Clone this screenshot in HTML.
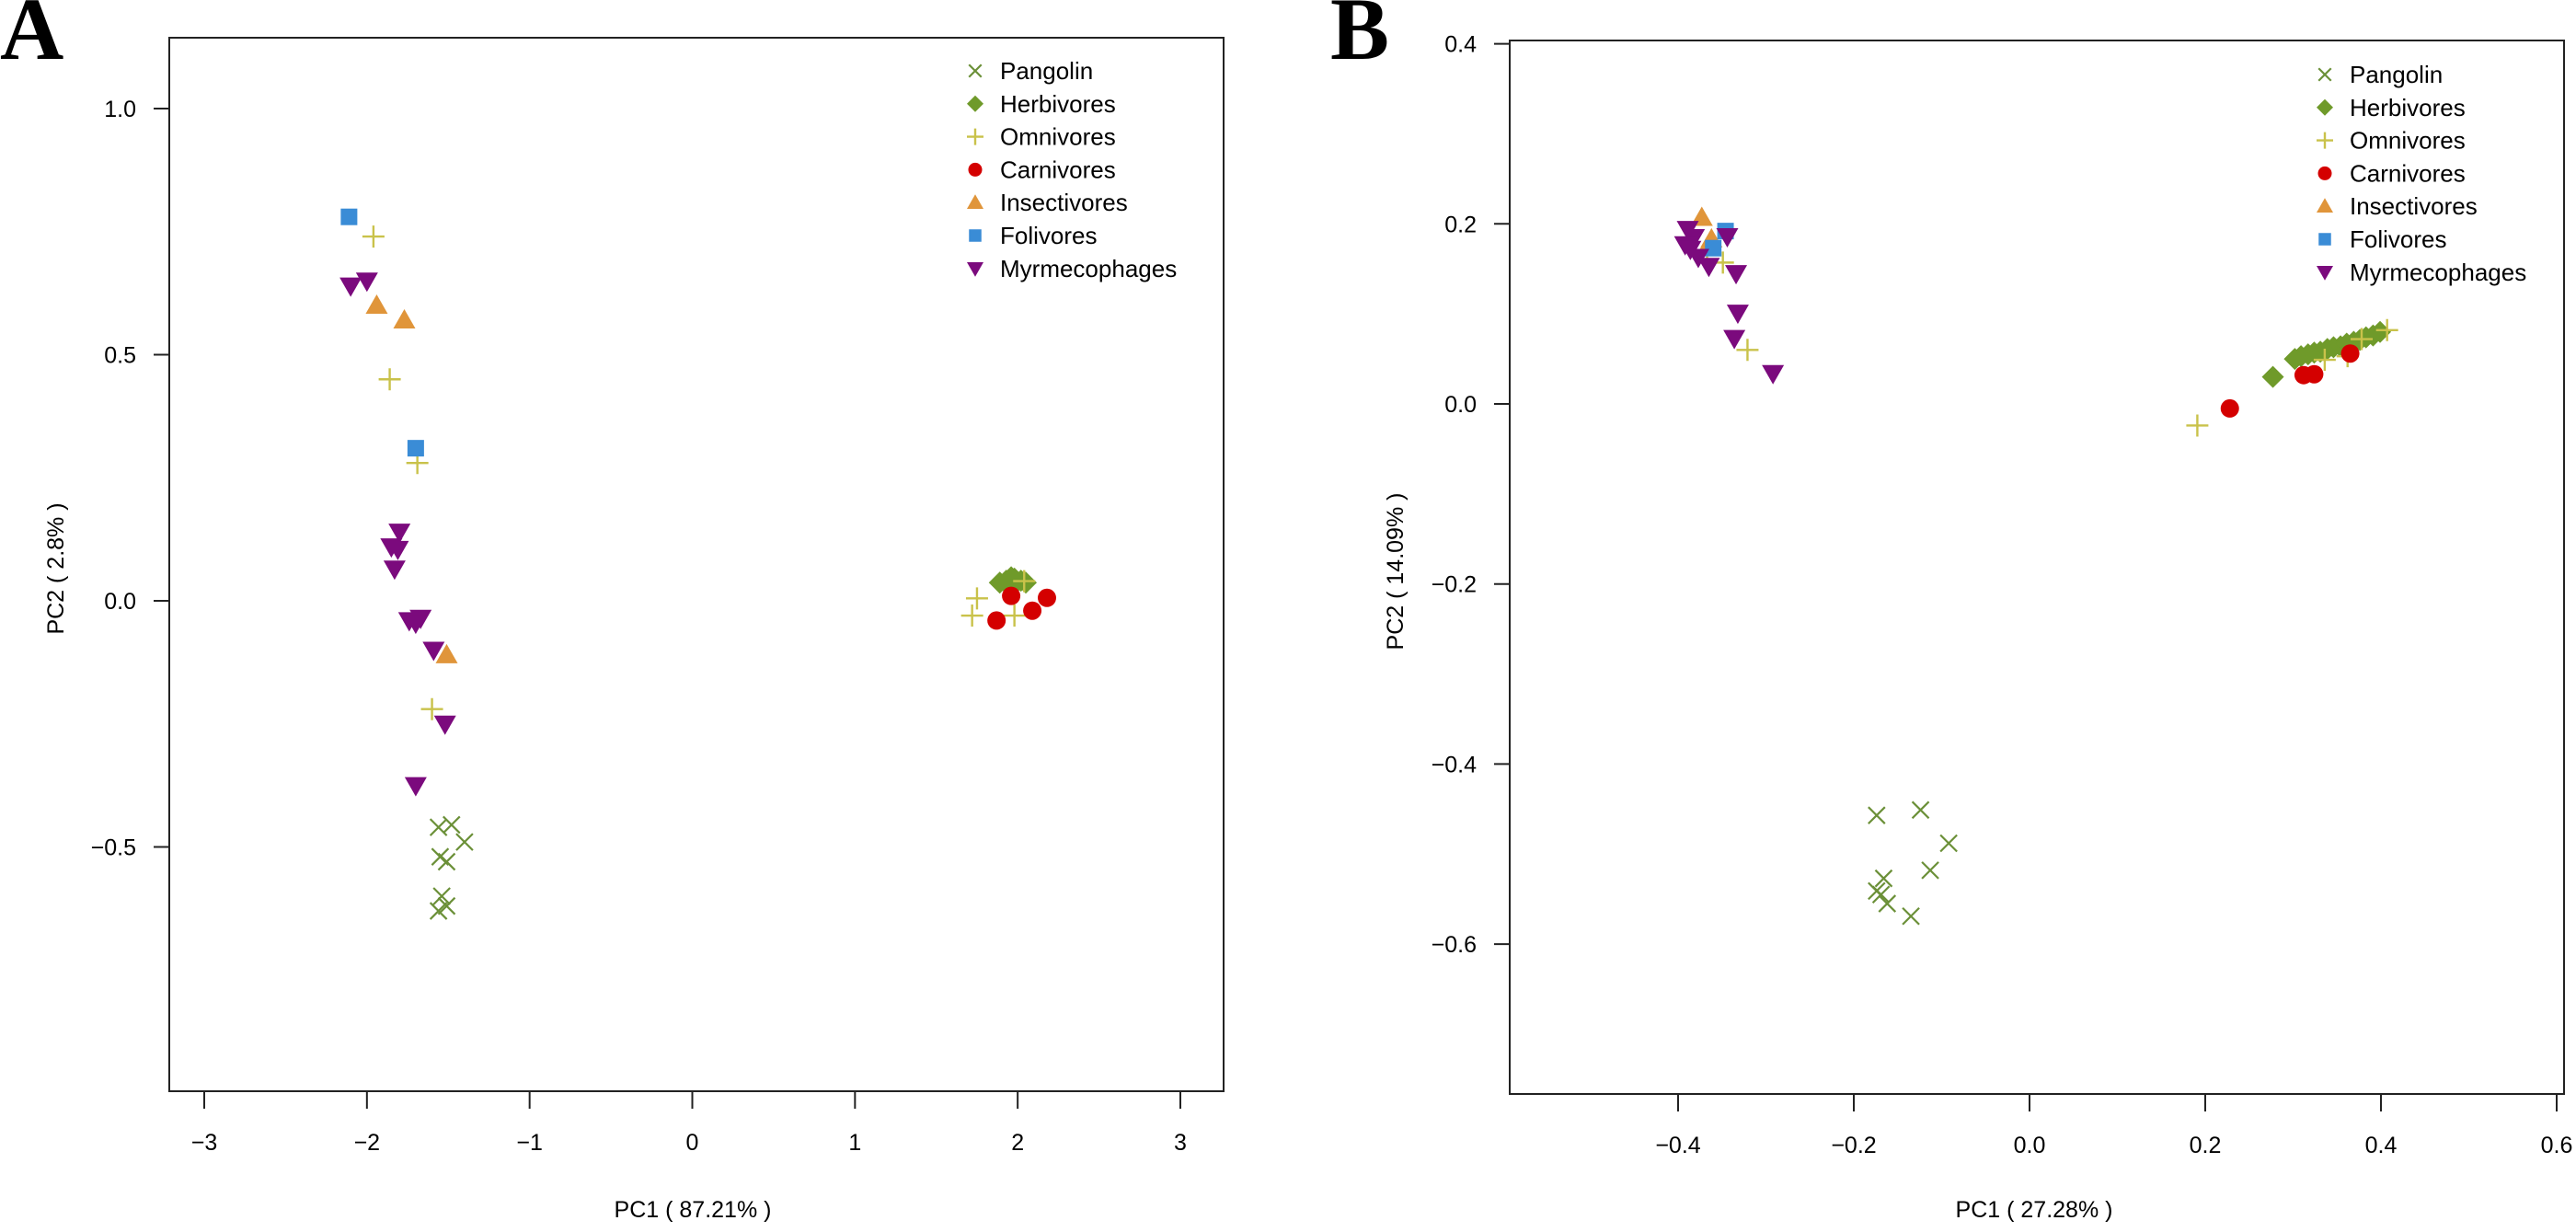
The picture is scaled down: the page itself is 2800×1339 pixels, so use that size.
<!DOCTYPE html>
<html><head><meta charset="utf-8"><style>
html,body{margin:0;padding:0;background:#fff;}
svg text{font-family:"Liberation Sans",Arial,sans-serif;}
</style></head><body>
<svg id="chart" width="2800" height="1334" viewBox="0 0 2800 1334" xmlns="http://www.w3.org/2000/svg"></svg>
<script>
// Panel A data
const aPangolin=[[-1.56,-0.46],[-1.48,-0.455],[-1.40,-0.49],[-1.55,-0.52],[-1.51,-0.53],[-1.54,-0.60],[-1.51,-0.62],[-1.56,-0.63]];
const aHerbivores=[[1.89,0.037],[1.93,0.041],[1.96,0.048],[1.99,0.037],[2.02,0.041],[2.05,0.037],[1.95,0.029],[1.98,0.045]];
const aOmnivores=[[-1.96,0.74],[-1.86,0.45],[-1.69,0.28],[-1.60,-0.22],[1.72,-0.03],[1.75,0.005],[1.98,-0.03],[2.04,0.04]];
const aCarnivores=[[1.87,-0.04],[1.96,0.01],[2.09,-0.02],[2.18,0.006]];
const aInsectivores=[[-1.94,0.60],[-1.77,0.57],[-1.51,-0.11]];
const aFolivores=[[-2.11,0.78],[-1.70,0.31]];
const aMyrm=[[-2.10,0.64],[-2.00,0.65],[-1.80,0.14],[-1.85,0.11],[-1.81,0.105],[-1.83,0.065],[-1.74,-0.04],[-1.67,-0.035],[-1.70,-0.045],[-1.59,-0.10],[-1.52,-0.25],[-1.70,-0.375]];
const aXTicks=[-3,-2,-1,0,1,2,3];
const aYTicks=[-0.5,0.0,0.5,1.0];
// Panel B data
const bPangolin=[[-0.174,-0.457],[-0.124,-0.451],[-0.092,-0.488],[-0.113,-0.518],[-0.166,-0.527],[-0.174,-0.541],[-0.169,-0.545],[-0.162,-0.555],[-0.135,-0.569]];
const bHerbivores=[[0.277,0.030],[0.302,0.050],[0.309,0.053],[0.317,0.055],[0.324,0.057],[0.331,0.058],[0.339,0.061],[0.346,0.063],[0.354,0.064],[0.361,0.067],[0.369,0.069],[0.376,0.071],[0.383,0.074],[0.391,0.076],[0.399,0.080]];
const bOmnivores=[[-0.367,0.170],[-0.349,0.157],[-0.321,0.060],[0.191,-0.024],[0.407,0.082],[0.378,0.072],[0.336,0.049],[0.362,0.053]];
const bCarnivores=[[0.228,-0.005],[0.312,0.032],[0.324,0.033],[0.365,0.056]];
const bInsectivores=[[-0.373,0.207],[-0.362,0.183],[-0.365,0.177]];
const bFolivores=[[-0.346,0.192],[-0.360,0.173]];
const bMyrm=[[-0.389,0.194],[-0.382,0.185],[-0.392,0.177],[-0.386,0.172],[-0.377,0.163],[-0.365,0.153],[-0.344,0.186],[-0.334,0.145],[-0.332,0.101],[-0.336,0.073],[-0.292,0.034]];
const bXTicks=[-0.4,-0.2,0.0,0.2,0.4,0.6];
const bYTicks=[-0.6,-0.4,-0.2,0.0,0.2,0.4];
const legendLabels=["Pangolin","Herbivores","Omnivores","Carnivores","Insectivores","Folivores","Myrmecophages"];

const NS="http://www.w3.org/2000/svg";
const svg=document.getElementById('chart');
const COL={Pangolin:"#6b9038",Herbivores:"#6f9a2a",Omnivores:"#c9c24a",Carnivores:"#d40000",Insectivores:"#e0953a",Folivores:"#3a8cd6",Myrmecophages:"#7b0a7d"};
function mk(tag,attrs,parent){const e=document.createElementNS(NS,tag);for(const k in attrs)e.setAttribute(k,attrs[k]);(parent||svg).appendChild(e);return e;}
function marker(g,type,cx,cy,s){
  s=s||1;let e;const c=COL[type];
  if(type==="Pangolin"){e=mk('path',{d:`M${cx-9*s},${cy-9*s}L${cx+9*s},${cy+9*s}M${cx-9*s},${cy+9*s}L${cx+9*s},${cy-9*s}`,stroke:c,'stroke-width':2.2,fill:'none'},g);}
  else if(type==="Omnivores"){e=mk('path',{d:`M${cx-12*s},${cy}L${cx+12*s},${cy}M${cx},${cy-12*s}L${cx},${cy+12*s}`,stroke:c,'stroke-width':2.4,fill:'none'},g);}
  else if(type==="Herbivores"){e=mk('polygon',{points:`${cx},${cy-12*s} ${cx+12*s},${cy} ${cx},${cy+12*s} ${cx-12*s},${cy}`,fill:c},g);}
  else if(type==="Carnivores"){e=mk('circle',{cx:cx,cy:cy,r:10*s,fill:c},g);}
  else if(type==="Insectivores"){e=mk('polygon',{points:`${cx},${cy-12*s} ${cx+12*s},${cy+9*s} ${cx-12*s},${cy+9*s}`,fill:c},g);}
  else if(type==="Folivores"){e=mk('rect',{x:cx-9*s,y:cy-9*s,width:18*s,height:18*s,fill:c},g);}
  else {e=mk('polygon',{points:`${cx-12*s},${cy-9*s} ${cx+12*s},${cy-9*s} ${cx},${cy+12*s}`,fill:c},g);}
  return e;
}
function panel(cfg){
  const g=mk('g',{});
  
  
  const X=v=>cfg.px0+(v-cfg.xa)*(cfg.px1-cfg.px0)/(cfg.xb-cfg.xa);
  const Y=v=>cfg.py0+(v-cfg.ya)*(cfg.py1-cfg.py0)/(cfg.yb-cfg.ya);
  const box=mk('rect',{x:cfg.L,y:cfg.T,width:cfg.R-cfg.L,height:cfg.B-cfg.T,fill:'none',stroke:'#222','stroke-width':2},g);
  
  const xa=mk('g',{},g);
  cfg.xt.forEach(t=>{mk('line',{x1:X(t),x2:X(t),y1:cfg.B,y2:cfg.B+19,stroke:'#222','stroke-width':2},xa);
    const tx=mk('text',{x:X(t),y:cfg.B+64,'text-anchor':'middle','font-size':25},xa);tx.textContent=(t<0?'\u2212':'')+Math.abs(t).toFixed(cfg.xd);
    });
  const ya=mk('g',{},g);
  cfg.yt.forEach(t=>{mk('line',{x1:cfg.L,x2:cfg.L-17,y1:Y(t),y2:Y(t),stroke:'#222','stroke-width':2},ya);
    const tx=mk('text',{x:cfg.L-36,y:Y(t)+9,'text-anchor':'end','font-size':25},ya);tx.textContent=(t<0?'\u2212':'')+Math.abs(t).toFixed(1);
    });
  const xt=mk('text',{x:cfg.xtx,y:1323,'text-anchor':'middle','font-size':25},g);xt.textContent=cfg.xTitle;
  
  const yt=mk('text',{x:0,y:0,'text-anchor':'middle','font-size':25,transform:`translate(${cfg.ytx},${cfg.yty}) rotate(-90)`},g);yt.textContent=cfg.yTitle;
  
  const lab=mk('text',{x:cfg.labX,y:64,style:'font-family:"Liberation Serif","Times New Roman",serif;font-size:96px;font-weight:bold'},g);lab.textContent=cfg.label;
  
  const series=[["Pangolin",cfg.d[0]],["Herbivores",cfg.d[1]],["Omnivores",cfg.d[2]],["Carnivores",cfg.d[3]],["Insectivores",cfg.d[4]],["Folivores",cfg.d[5]],["Myrmecophages",cfg.d[6]]];
  series.forEach(([name,pts])=>{
    const sg=mk('g',{},g);
    
    
    pts.forEach(p=>{const m=marker(sg,name,X(p[0]),Y(p[1]));
      
      });
  });
  const lg=mk('g',{},g);
  legendLabels.forEach((name,i)=>{
    const eg=mk('g',{},lg);
    
    
    const y=cfg.legY+i*35.8;marker(eg,name,cfg.legMX,y,0.75);
    const t=mk('text',{x:cfg.legTX,y:y+9,'font-size':26},eg);t.textContent=name;
  });
}
panel({name:'panel-a',L:184,R:1330,T:41,B:1186,xa:-3,xb:3,px0:222,px1:1283,ya:0,yb:1,py0:653,py1:118,
  xt:aXTicks,yt:aYTicks,xd:0,xTitle:'PC1 ( 87.21% )',yTitle:'PC2 ( 2.8% )',xtx:753,ytx:69,yty:618,label:'A',labX:0,
  legMX:1060,legTX:1087,legY:77,d:[aPangolin,aHerbivores,aOmnivores,aCarnivores,aInsectivores,aFolivores,aMyrm]});
panel({name:'panel-b',L:1641,R:2787,T:44,B:1189,xa:-0.4,xb:0.4,px0:1824,px1:2588,ya:0,yb:0.4,py0:439,py1:47.6,
  xt:bXTicks,yt:bYTicks,xd:1,xTitle:'PC1 ( 27.28% )',yTitle:'PC2 ( 14.09% )',xtx:2211,ytx:1525,yty:621,label:'B',labX:1446,
  legMX:2527,legTX:2554,legY:81,d:[bPangolin,bHerbivores,bOmnivores,bCarnivores,bInsectivores,bFolivores,bMyrm]});
</script>
</body></html>
